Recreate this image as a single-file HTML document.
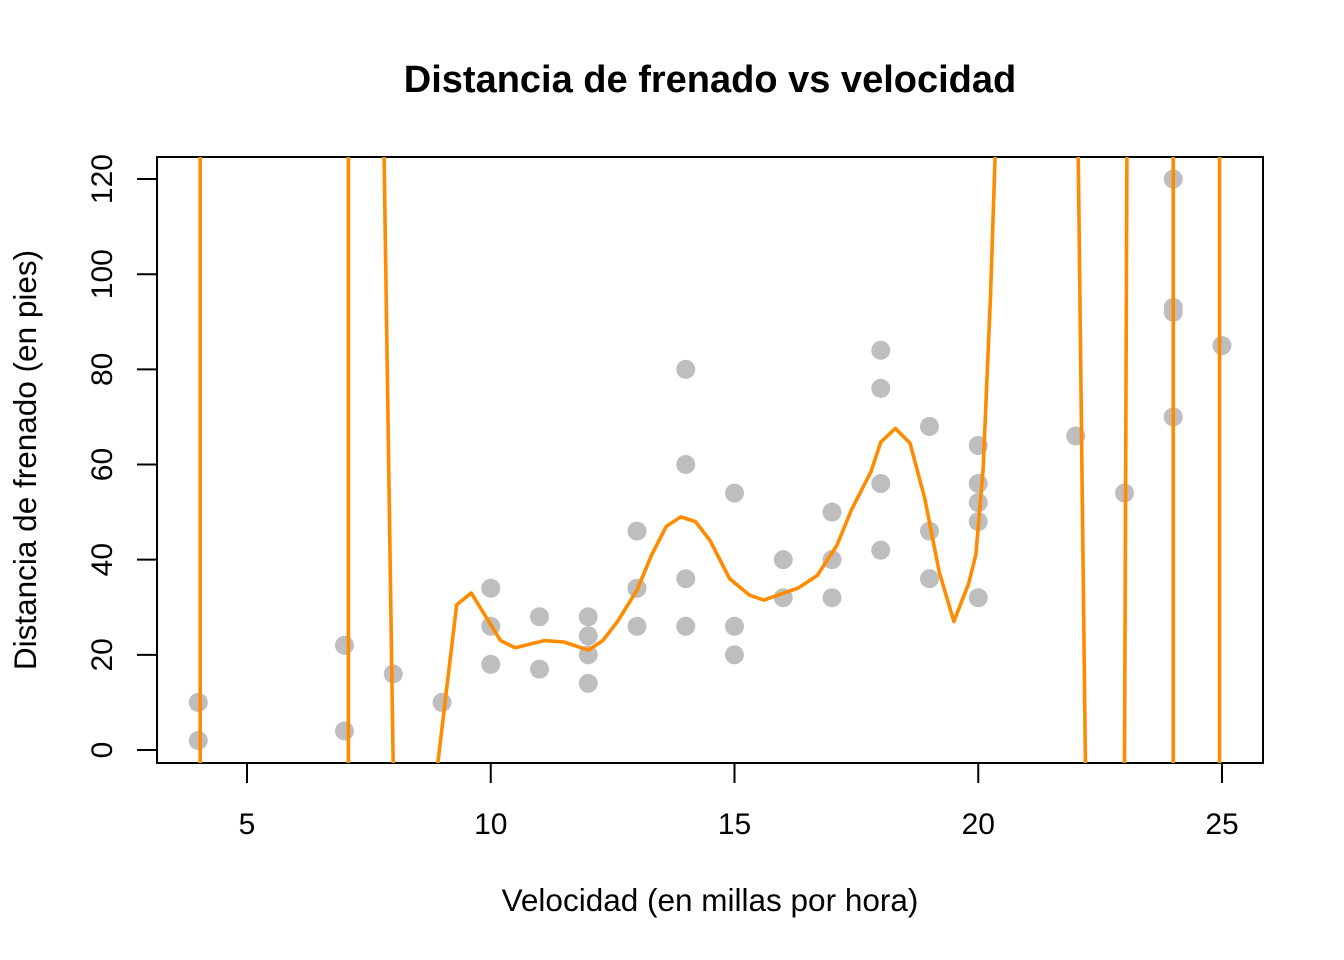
<!DOCTYPE html>
<html><head><meta charset="utf-8"><style>
html,body{margin:0;padding:0;background:#fff;overflow:hidden;width:1344px;height:960px;}
svg{display:block;}
svg text{font-family:"Liberation Sans",Arial,sans-serif;}
</style></head><body>
<svg id="chart" width="1344" height="960" xmlns="http://www.w3.org/2000/svg">
<defs><clipPath id="clip"><rect x="157" y="157" width="1106" height="606"/></clipPath></defs>
<rect width="1344" height="960" fill="#fff"/>
<text x="710" y="92" font-size="38" font-weight="bold" text-anchor="middle">Distancia de frenado vs velocidad</text>
<text x="710" y="911" font-size="31.5" text-anchor="middle">Velocidad (en millas por hora)</text>
<text transform="translate(36,460) rotate(-90)" font-size="31.5" text-anchor="middle">Distancia de frenado (en pies)</text>
<rect x="157" y="157" width="1106" height="606" fill="none" stroke="#000" stroke-width="2"/>
<g id="axes"></g>
<g id="points"></g>
<g id="fit" clip-path="url(#clip)"></g>
</svg>
<script>
const speed=[4,4,7,7,8,9,10,10,10,11,11,12,12,12,12,13,13,13,13,14,14,14,14,15,15,15,16,16,17,17,17,18,18,18,18,19,19,19,20,20,20,20,20,22,23,24,24,24,24,25];
const dist=[2,10,4,22,16,10,18,26,34,17,28,14,20,24,28,26,34,34,46,26,36,60,80,20,26,54,32,40,32,40,50,42,56,76,84,36,46,68,32,48,52,56,64,66,54,70,92,93,120,85];
const xTicks=[5,10,15,20,25];
const yTicks=[0,20,40,60,80,100,120];
const fitX=[4.04,4.04,7.08,7.08,7.81,7.81,8.0,8.0,8.9,8.9,9.3,9.6,10.2,10.5,11.1,11.5,12,12.3,12.6,13,13.3,13.6,13.9,14.2,14.5,14.9,15.3,15.6,15.9,16.3,16.7,17.1,17.4,17.8,18.0,18.3,18.6,18.9,19.2,19.5,19.8,19.95,20.1,20.25,20.35,20.35,22.05,22.05,22.2,22.2,23.0,23.0,23.05,23.05,24.0,24.0,24.95,24.95];
const fitY=[140,-10,-10,140,140,126,-4,-10,-10,-4,30.5,33,23,21.5,23,22.7,21,23,27,33.6,41,47,49,48,44,36,32.6,31.5,32.6,34,36.7,43,50.5,58.5,64.7,67.6,64.5,53,37.4,27,34.9,41,59,95,126,140,140,126,-4,-10,-10,-4,126,140,140,-10,-10,140];
const NS='http://www.w3.org/2000/svg';
const sx=v=>247+(v-5)*48.75;
const sy=v=>750-v*4.758;
function mk(t,a,p){const e=document.createElementNS(NS,t);for(const k in a)e.setAttribute(k,a[k]);p.appendChild(e);return e;}
const ax=document.getElementById('axes');
xTicks.forEach(v=>{
 const l=mk('line',{x1:sx(v),x2:sx(v),y1:763,y2:783,stroke:'#000','stroke-width':2},ax);
 
 
 const t=mk('text',{x:sx(v),y:834,'font-size':30,'text-anchor':'middle'},ax);t.textContent=v;
 
 
});
yTicks.forEach(v=>{
 const l=mk('line',{x1:137,x2:157,y1:sy(v),y2:sy(v),stroke:'#000','stroke-width':2},ax);
 
 
 const t=mk('text',{transform:`translate(112,${sy(v)}) rotate(-90)`,'font-size':30,'text-anchor':'middle'},ax);t.textContent=v;
 
 
});
const pg=document.getElementById('points');
speed.forEach((s,i)=>{
 const c=mk('circle',{cx:sx(s),cy:sy(dist[i]),r:9.5,fill:'#bebebe'},pg);
 
 
});
const fg=document.getElementById('fit');
const pl=mk('polyline',{points:fitX.map((x,i)=>sx(x)+','+sy(fitY[i])).join(' '),fill:'none',stroke:'#ff8c00','stroke-width':3.6,'stroke-linejoin':'round'},fg);


</script>
</body></html>
